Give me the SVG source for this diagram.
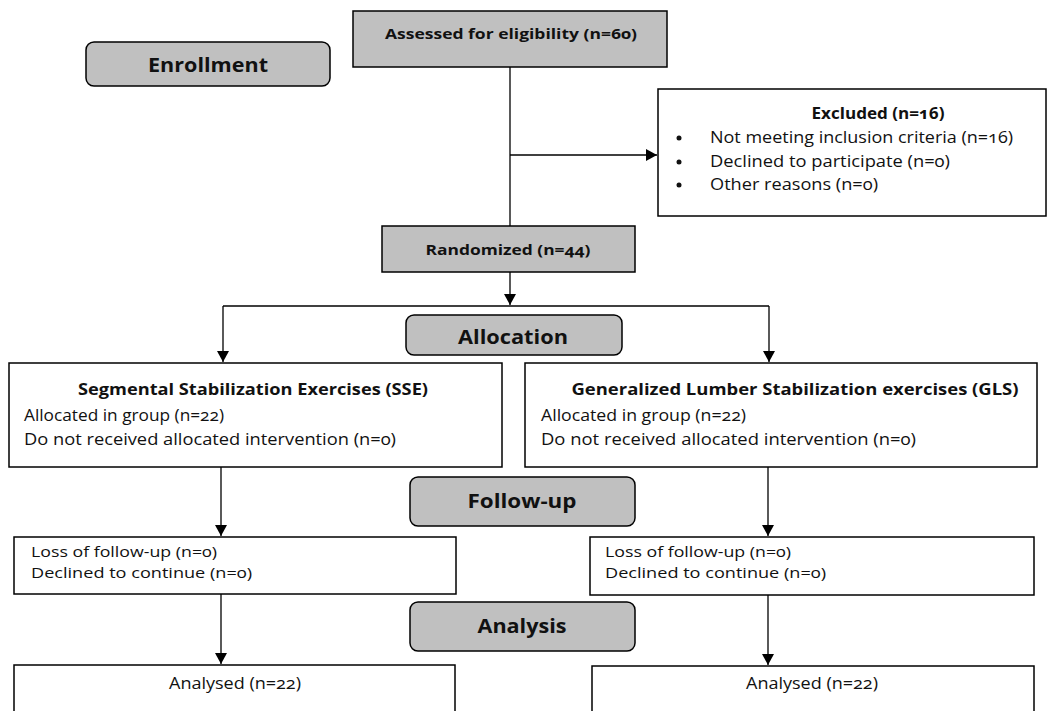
<svg xmlns="http://www.w3.org/2000/svg" width="1053" height="711" viewBox="0 0 1053 711">
<style>
  .box{fill:#ffffff;stroke:#000;stroke-width:1.5}
  .grey{fill:#c0c0c0;stroke:#000;stroke-width:1.5}
  .phase{fill:#c0c0c0;stroke:#000;stroke-width:1.5}
  text{font-family:"Open Sans",Lato,"DejaVu Sans",sans-serif;fill:#111;font-variant-numeric:oldstyle-nums}
  .b{font-weight:bold}
  .t{font-size:16px}
  .s{font-size:14.5px}
  .ph{font-size:20px;font-weight:bold}
  .c{text-anchor:middle}
  .ln{stroke:#000;stroke-width:1.3;fill:none}
</style>
<defs>
  <marker id="ah" markerUnits="userSpaceOnUse" markerWidth="12" markerHeight="12" refX="11" refY="6" orient="auto">
    <path d="M0,0 L11,6 L0,12 Z" fill="#000"/>
  </marker>
</defs>
<rect width="1053" height="711" fill="#fff"/>
<g id="connectors">
  <line class="ln" x1="510" y1="67" x2="510" y2="226"/>
  <line class="ln" x1="510" y1="155" x2="657" y2="155" marker-end="url(#ah)"/>
  <line class="ln" x1="510" y1="272" x2="510" y2="305" marker-end="url(#ah)"/>
  <line class="ln" x1="223" y1="306" x2="769" y2="306"/>
  <line class="ln" x1="223" y1="306" x2="223" y2="362" marker-end="url(#ah)"/>
  <line class="ln" x1="769" y1="306" x2="769" y2="362" marker-end="url(#ah)"/>
  <line class="ln" x1="221" y1="467" x2="221" y2="536" marker-end="url(#ah)"/>
  <line class="ln" x1="768" y1="467" x2="768" y2="536" marker-end="url(#ah)"/>
  <line class="ln" x1="221" y1="594" x2="221" y2="664" marker-end="url(#ah)"/>
  <line class="ln" x1="768" y1="595" x2="768" y2="665" stroke-width="2" marker-end="url(#ah)"/>
</g>
<g id="assessed">
  <rect class="grey" x="353" y="11" width="314" height="56"/>
  <text class="b c" x="511" y="39" font-size="15" textLength="252" lengthAdjust="spacingAndGlyphs">Assessed for eligibility (n=60)</text>
</g>
<g id="enrollment">
  <rect class="phase" x="86" y="42" width="244" height="44" rx="8"/>
  <text class="ph c" x="208" y="72" textLength="120" lengthAdjust="spacingAndGlyphs">Enrollment</text>
</g>
<g id="excluded">
  <rect class="box" x="658" y="89" width="388" height="127"/>
  <text class="b c t" x="878" y="119" textLength="133" lengthAdjust="spacingAndGlyphs">Excluded (n=16)</text>
  <circle cx="679" cy="138" r="2.5" fill="#111"/>
  <circle cx="679" cy="162" r="2.5" fill="#111"/>
  <circle cx="679" cy="185" r="2.5" fill="#111"/>
  <text class="t" x="710" y="143" textLength="303" lengthAdjust="spacingAndGlyphs">Not meeting inclusion criteria (n=16)</text>
  <text class="t" x="710" y="167" textLength="240" lengthAdjust="spacingAndGlyphs">Declined to participate (n=0)</text>
  <text class="t" x="710" y="190" textLength="168" lengthAdjust="spacingAndGlyphs">Other reasons (n=0)</text>
</g>
<g id="randomized">
  <rect class="grey" x="382" y="226" width="253" height="46"/>
  <text class="b c" x="508" y="255" font-size="15" textLength="165" lengthAdjust="spacingAndGlyphs">Randomized (n=44)</text>
</g>
<g id="allocation">
  <rect class="phase" x="406" y="315" width="216" height="40" rx="8"/>
  <text class="ph c" x="513" y="344" textLength="110" lengthAdjust="spacingAndGlyphs">Allocation</text>
</g>
<g id="sse">
  <rect class="box" x="9" y="363" width="493" height="104"/>
  <text class="b c" x="253" y="395" font-size="16" textLength="350" lengthAdjust="spacingAndGlyphs">Segmental Stabilization Exercises (SSE)</text>
  <text class="t" x="24" y="421" textLength="200" lengthAdjust="spacingAndGlyphs">Allocated in group (n=22)</text>
  <text class="t" x="24" y="445" textLength="372" lengthAdjust="spacingAndGlyphs">Do not received allocated intervention (n=0)</text>
</g>
<g id="gls">
  <rect class="box" x="525" y="363" width="512" height="104"/>
  <text class="b c" x="795" y="395" font-size="16" textLength="447" lengthAdjust="spacingAndGlyphs">Generalized Lumber Stabilization exercises (GLS)</text>
  <text class="t" x="541" y="421" textLength="205" lengthAdjust="spacingAndGlyphs">Allocated in group (n=22)</text>
  <text class="t" x="541" y="445" textLength="375" lengthAdjust="spacingAndGlyphs">Do not received allocated intervention (n=0)</text>
</g>
<g id="followup">
  <rect class="phase" x="410" y="477" width="225" height="49" rx="8"/>
  <text class="ph c" x="522" y="508" textLength="109" lengthAdjust="spacingAndGlyphs">Follow-up</text>
</g>
<g id="follow-sse">
  <rect class="box" x="14" y="537" width="442" height="57"/>
  <text class="s" x="31" y="557" textLength="186" lengthAdjust="spacingAndGlyphs">Loss of follow-up (n=0)</text>
  <text class="s" x="31" y="578" textLength="221" lengthAdjust="spacingAndGlyphs">Declined to continue (n=0)</text>
</g>
<g id="follow-gls">
  <rect class="box" x="590" y="537" width="444" height="58"/>
  <text class="s" x="605" y="557" textLength="186" lengthAdjust="spacingAndGlyphs">Loss of follow-up (n=0)</text>
  <text class="s" x="605" y="578" textLength="221" lengthAdjust="spacingAndGlyphs">Declined to continue (n=0)</text>
</g>
<g id="analysis">
  <rect class="phase" x="410" y="602" width="225" height="49" rx="8"/>
  <text class="ph c" x="522" y="633" textLength="89" lengthAdjust="spacingAndGlyphs">Analysis</text>
</g>
<g id="analysed-sse">
  <rect class="box" x="14" y="665" width="441" height="60"/>
  <text class="t c" x="235" y="689" textLength="132" lengthAdjust="spacingAndGlyphs">Analysed (n=22)</text>
</g>
<g id="analysed-gls">
  <rect class="box" x="592" y="666" width="442" height="60"/>
  <text class="t c" x="812" y="689" textLength="132" lengthAdjust="spacingAndGlyphs">Analysed (n=22)</text>
</g>
</svg>
